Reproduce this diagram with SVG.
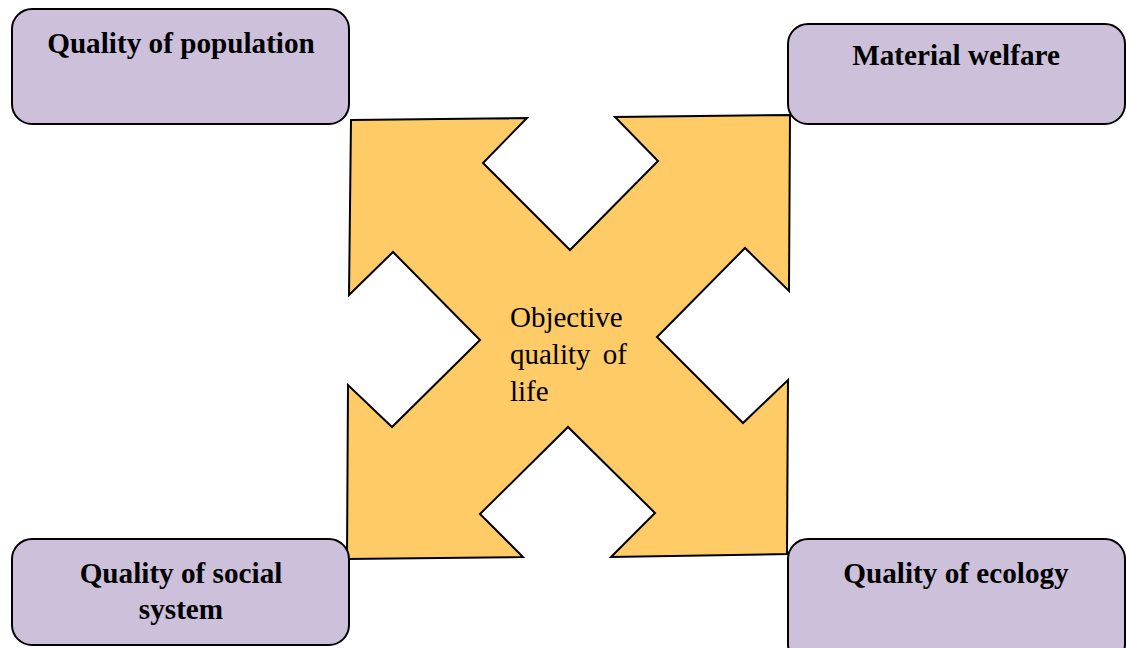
<svg xmlns="http://www.w3.org/2000/svg" width="1126" height="648" viewBox="0 0 1126 648">
<style>
.box{fill:#CCC0DA;stroke:#000;stroke-width:2}
.lbl{font-family:"Liberation Serif","Times New Roman",serif;font-size:29.2px;font-weight:bold;fill:#000;text-anchor:middle}
.ctr{font-family:"Liberation Serif","Times New Roman",serif;font-size:29px;fill:#000}
</style>
<rect width="1126" height="648" fill="#fff"/>
<g id="connectors">
<polygon id="cross-arrow" points="351,120 527,118 483,163 570,250 658,161 615,117 790,115 789,291 745,248 657,337 743,423 788,380 787,554 611,557 655,513 568,427 480,514 523,557 347,559 348,385 392,427 480,340 393,252 349,295" fill="#FECB66" stroke="#000" stroke-width="2" stroke-linejoin="miter"/>
</g>
<g id="center">
<text class="ctr" x="510" y="327">Objective</text>
<text class="ctr" x="510" y="364" word-spacing="5">quality of</text>
<text class="ctr" x="510" y="401">life</text>
</g>
<g id="quality-of-population">
<rect class="box" x="12" y="9" width="337" height="115" rx="20"/>
<text class="lbl" x="181" y="53">Quality of population</text>
</g>
<g id="material-welfare">
<rect class="box" x="788" y="24" width="337" height="100" rx="20"/>
<text class="lbl" x="956" y="65">Material welfare</text>
</g>
<g id="quality-of-social-system">
<rect class="box" x="12" y="539" width="337" height="106" rx="20"/>
<text class="lbl" x="181" y="583">Quality of social</text>
<text class="lbl" x="181" y="619">system</text>
</g>
<g id="quality-of-ecology">
<rect class="box" x="788" y="539" width="337" height="125" rx="20"/>
<text class="lbl" x="956" y="583">Quality of ecology</text>
</g>
</svg>
